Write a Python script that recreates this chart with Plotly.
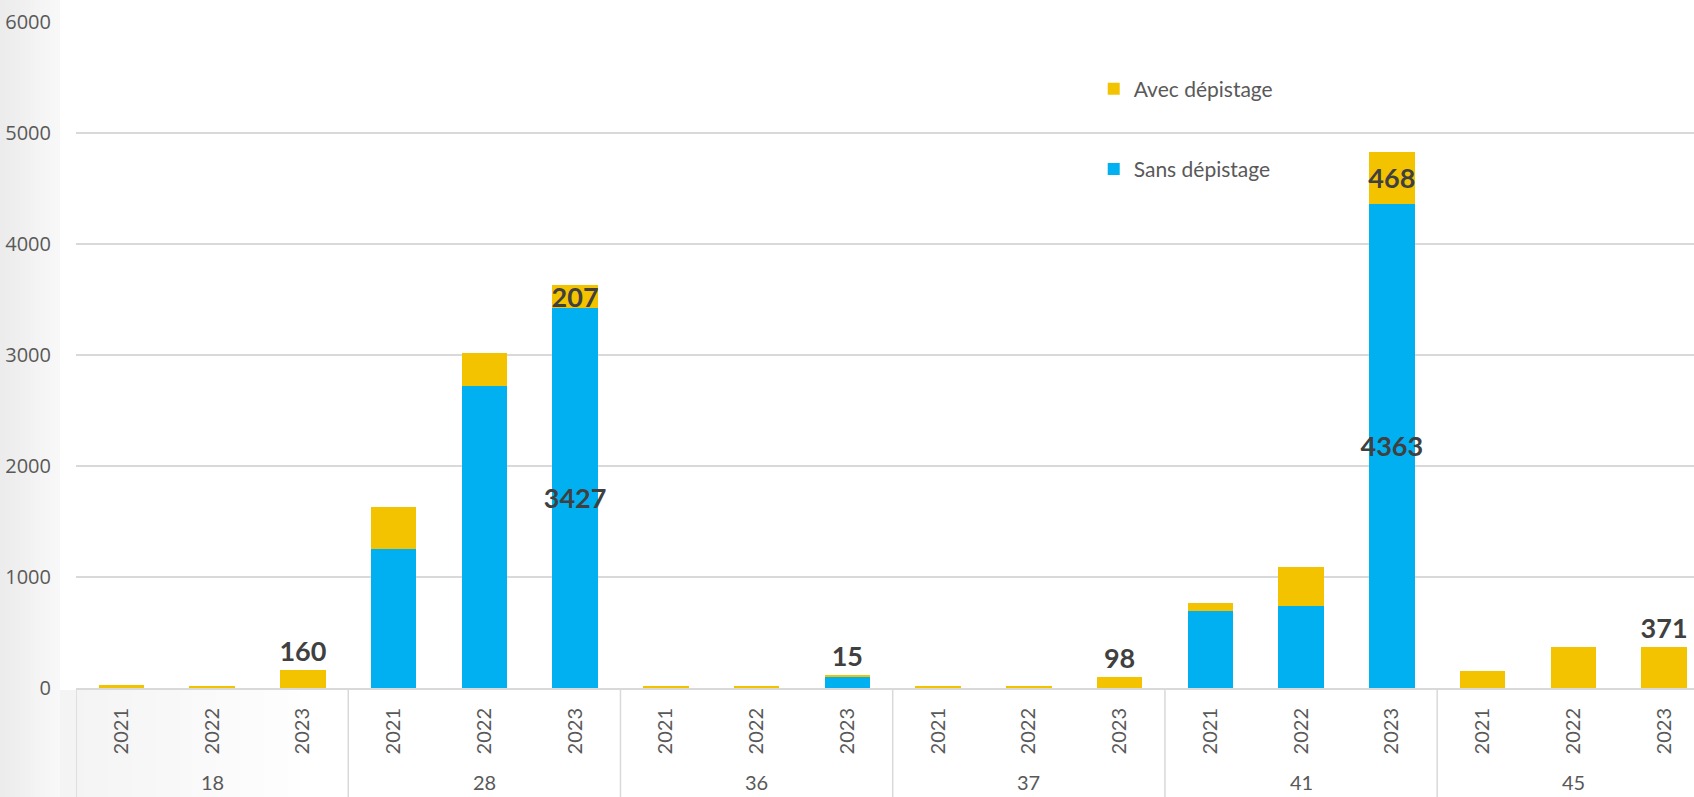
import plotly.graph_objects as go

groups = ["18", "28", "36", "37", "41", "45"]
years = ["2021", "2022", "2023"]
sans = [0, 0, 0, 1255, 2724, 3427, 0, 0, 105, 0, 0, 0, 690, 736, 4363, 0, 0, 0]
avec = [25, 18, 160, 380, 292, 207, 18, 22, 15, 22, 22, 98, 75, 355, 468, 155, 368, 371]
y_ticks = [0, 1000, 2000, 3000, 4000, 5000, 6000]

xy = [y for _ in groups for y in years]
xpos = list(range(len(xy)))
ny = len(years)

BLUE = "#00B0F0"
GOLD = "#F4C300"
LABEL = "#404040"
AXIS_TXT = "#595959"
LINE = "#d9d9d9"

sans_text = [str(v) if (yr == "2023" and v > 1000) else "" for v, yr in zip(sans, xy)]
avec_text = [str(v) if yr == "2023" else "" for v, yr in zip(avec, xy)]
avec_pos = ["inside" if s > 1000 else "outside" for s in sans]

label_font = dict(family="Lato", size=27, color=LABEL, weight="bold")

fig = go.Figure()
fig.add_trace(go.Bar(
    x=xpos, y=sans, name="Sans dépistage", marker_color=BLUE,
    marker_line_width=0, width=0.5, legendrank=2, legendgroup="g0",
    text=sans_text, textposition="inside", insidetextanchor="middle",
    constraintext="none", textangle=0, textfont=label_font,
))
fig.add_trace(go.Bar(
    x=xpos, y=avec, name="Avec dépistage", marker_color=GOLD,
    marker_line_width=0, width=0.5, legendrank=1, legendgroup="g1",
    text=avec_text, textposition=avec_pos, insidetextanchor="middle",
    constraintext="none", textangle=0, cliponaxis=False, textfont=label_font,
))

W, H = 1694.0, 797.0
ML, MT, MB = 76.0, 22.0, 109.0
plot_w = W - ML
plot_h = H - MT - MB


def px_x(p):
    return (p - ML) / plot_w


def px_y(p):
    return (H - MB - p) / plot_h


shapes = []
# subtle grey slide background on the left and bottom-left
n = 12
for i in range(n):
    x0 = i * 5.0
    c = int(236 + (250 - 236) * i / n)
    shapes.append(dict(
        type="rect", xref="paper", yref="paper", layer="below",
        x0=px_x(x0), x1=px_x(x0 + 5.0), y0=px_y(H), y1=px_y(0),
        fillcolor=f"rgb({c},{c},{c})", line_width=0,
    ))
n2 = 20
for i in range(n2):
    x0 = 60 + i * 12.0
    c = int(244 + (255 - 244) * i / n2)
    shapes.append(dict(
        type="rect", xref="paper", yref="paper", layer="below",
        x0=px_x(x0), x1=px_x(x0 + 12.0), y0=px_y(H), y1=px_y(H - MB + 2),
        fillcolor=f"rgb({c},{c},{c})", line_width=0,
    ))

# group dividers and group labels
annotations = []
for gi, g in enumerate(groups):
    left = gi * ny - 0.5
    shapes.append(dict(
        type="line", xref="x", yref="paper", x0=left, x1=left,
        y0=0, y1=px_y(H), line=dict(color=LINE, width=1.5),
    ))
    annotations.append(dict(
        x=gi * ny + (ny - 1) / 2, y=px_y(796), xref="x", yref="paper",
        text=g, showarrow=False, xanchor="center", yanchor="bottom",
        font=dict(family="Lato", size=20, color=AXIS_TXT),
    ))

fig.update_layout(
    barmode="stack",
    width=int(W), height=int(H),
    margin=dict(l=ML, r=0, t=MT, b=MB),
    paper_bgcolor="white", plot_bgcolor="rgba(0,0,0,0)",
    font=dict(family="Open Sans", color=AXIS_TXT, size=18),
    shapes=shapes,
    annotations=annotations,
    showlegend=True,
    legend=dict(
        x=0.629, y=0.93, xanchor="left", yanchor="top",
        bgcolor="rgba(0,0,0,0)", tracegroupgap=50,
        font=dict(family="Lato", size=21, color=AXIS_TXT),
        itemwidth=30,
    ),
    xaxis=dict(
        range=[-0.5, 17.33], tickvals=xpos, ticktext=xy,
        showgrid=False, showline=True, linecolor=LINE, linewidth=2,
        zeroline=False, tickangle=-90,
        tickfont=dict(family="Lato", size=20, color=AXIS_TXT),
        ticks="", ticklabelstandoff=10,
    ),
    yaxis=dict(
        range=[0, 6000], tickvals=y_ticks, showgrid=True,
        gridcolor=LINE, gridwidth=1.5, zeroline=False,
        showline=False, ticks="", ticklabelstandoff=24,
        tickfont=dict(family="Open Sans", size=20, color=AXIS_TXT),
    ),
)

fig.write_html(
    "out.html",
    config={"displayModeBar": False},
    post_script="document.body.style.margin='0';document.body.style.overflow='hidden';",
)
